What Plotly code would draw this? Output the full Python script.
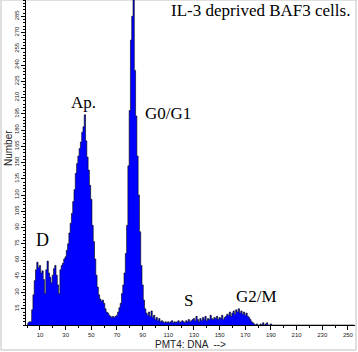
import plotly.graph_objects as go

# DNA histogram channels and counts
channels = list(range(256))
counts = [
    0, 2, 3, 3, 14, 28, 41, 51, 58, 53, 55, 48, 50, 42, 29, 51,
    59, 48, 44, 39, 46, 52, 55, 46, 37, 29, 51, 55, 57, 61, 63, 69,
    75, 85, 94, 103, 114, 125, 140, 149, 156, 163, 169, 178, 183, 194, 170, 155,
    143, 129, 116, 92, 77, 61, 46, 35, 28, 24, 22, 23, 20, 15, 12, 11,
    9, 8, 7, 8, 7, 8, 9, 12, 16, 20, 29, 37, 48, 66, 92, 147,
    198, 263, 285, 305, 235, 193, 156, 120, 86, 55, 37, 23, 15, 11, 9, 12,
    8, 13, 7, 9, 5, 7, 4, 6, 3, 4, 3, 2, 3, 2, 3, 2,
    3, 4, 2, 3, 2, 3, 4, 2, 3, 4, 3, 2, 4, 3, 5, 3,
    4, 5, 6, 4, 8, 5, 3, 6, 4, 7, 5, 8, 4, 6, 5, 9,
    6, 5, 7, 6, 8, 5, 7, 6, 9, 5, 7, 8, 10, 9, 12, 8,
    11, 13, 10, 14, 12, 15, 11, 13, 10, 12, 9, 11, 8, 7, 5, 3,
    2, 1, 0, 1, 0, 0, 1, 0, 2, 0, 1, 2, 0, 0, 1, 0,
    0, 0, 0, 0, 0, 0, 0, 0, 0, 0, 0, 0, 0, 0, 0, 0,
    0, 0, 0, 0, 0, 0, 0, 0, 0, 0, 0, 0, 0, 0, 0, 0,
    0, 0, 0, 0, 0, 0, 0, 0, 0, 0, 0, 0, 0, 0, 0, 0,
    0, 0, 0, 0, 0, 0, 0, 0, 0, 0, 0, 0, 0, 0, 0, 0,
]

x_tick_vals = [10, 30, 50, 70, 90, 110, 130, 150, 170, 190, 210, 230, 250]
x_minor_vals = [0, 20, 40, 60, 80, 100, 120, 140, 160, 180, 200, 220, 240]
y_tick_vals = [15, 30, 45, 60, 75, 90, 105, 120, 135, 150, 165, 180, 195, 210, 225, 240, 255, 270, 285]

title_text = "IL-3 deprived BAF3 cells."
phase_labels = ["Ap.", "G0/G1", "D", "S", "G2/M"]

W, H = 358, 352
L, R, T, B = 26, 3, 0, 27
pw, ph = W - L - R, H - T - B


def px(x):
    return (x - L) / pw


def py(y):
    return (H - B - y) / ph


fig = go.Figure(
    go.Scatter(
        x=channels,
        y=counts,
        mode="lines",
        line=dict(shape="hvh", color="#000000", width=0.6),
        fill="tozeroy",
        fillcolor="#0000ff",
        hoverinfo="skip",
    )
)

serif = "Liberation Serif"
sans = "Liberation Sans"

annotations = [
    dict(text=title_text, x=px(352), y=py(10), xanchor="right", yanchor="middle",
         font=dict(family=serif, size=17, color="black")),
    dict(text=phase_labels[0], x=px(83), y=py(102), xanchor="center", yanchor="middle",
         font=dict(family=serif, size=17, color="black")),
    dict(text=phase_labels[1], x=px(168), y=py(114), xanchor="center", yanchor="middle",
         font=dict(family=serif, size=17, color="black")),
    dict(text=phase_labels[2], x=px(42), y=py(240), xanchor="center", yanchor="middle",
         font=dict(family=serif, size=18, color="black")),
    dict(text=phase_labels[3], x=px(188), y=py(300), xanchor="center", yanchor="middle",
         font=dict(family=serif, size=17, color="black")),
    dict(text=phase_labels[4], x=px(256), y=py(296), xanchor="center", yanchor="middle",
         font=dict(family=serif, size=17, color="black")),
    dict(text="Number", x=px(8), y=py(148), textangle=-90, xanchor="center", yanchor="middle",
         font=dict(family=sans, size=10, color="#222")),
]
for a in annotations:
    a.update(xref="paper", yref="paper", showarrow=False)

fig.update_layout(
    width=W, height=H,
    margin=dict(l=L, r=R, t=T, b=B),
    paper_bgcolor="white", plot_bgcolor="white",
    showlegend=False,
    annotations=annotations,
    shapes=[dict(type="rect", xref="paper", yref="paper",
                 x0=px(1), x1=px(356), y0=py(350), y1=py(0),
                 line=dict(color="#c0c0c0", width=1), fillcolor="rgba(0,0,0,0)", layer="below")],
)

fig.update_xaxes(
    range=[-0.9, 255.5], showgrid=False, zeroline=False,
    showline=True, linecolor="black", linewidth=1,
    ticks="outside", ticklen=4, tickwidth=1, tickcolor="black",
    tickmode="array", tickvals=x_tick_vals, ticktext=[str(v) for v in x_tick_vals],
    tickfont=dict(family=sans, size=6, color="#222"),
    minor=dict(ticks="outside", ticklen=2, tickcolor="black", tickmode="array", tickvals=x_minor_vals),
    title=dict(text="PMT4: DNA  -->", font=dict(family=sans, size=10, color="#222"), standoff=3),
)
fig.update_yaxes(
    range=[0, 300], showgrid=False, zeroline=False,
    showline=True, linecolor="black", linewidth=1,
    ticks="outside", ticklen=4, tickwidth=1, tickcolor="black",
    tickmode="array", tickvals=y_tick_vals, ticktext=[str(v) for v in y_tick_vals],
    tickangle=-90,
    tickfont=dict(family=sans, size=6, color="#222"),
    minor=dict(ticks="outside", ticklen=2, tickcolor="black", dtick=3, tick0=0),
)

fig.write_html("out.html")
